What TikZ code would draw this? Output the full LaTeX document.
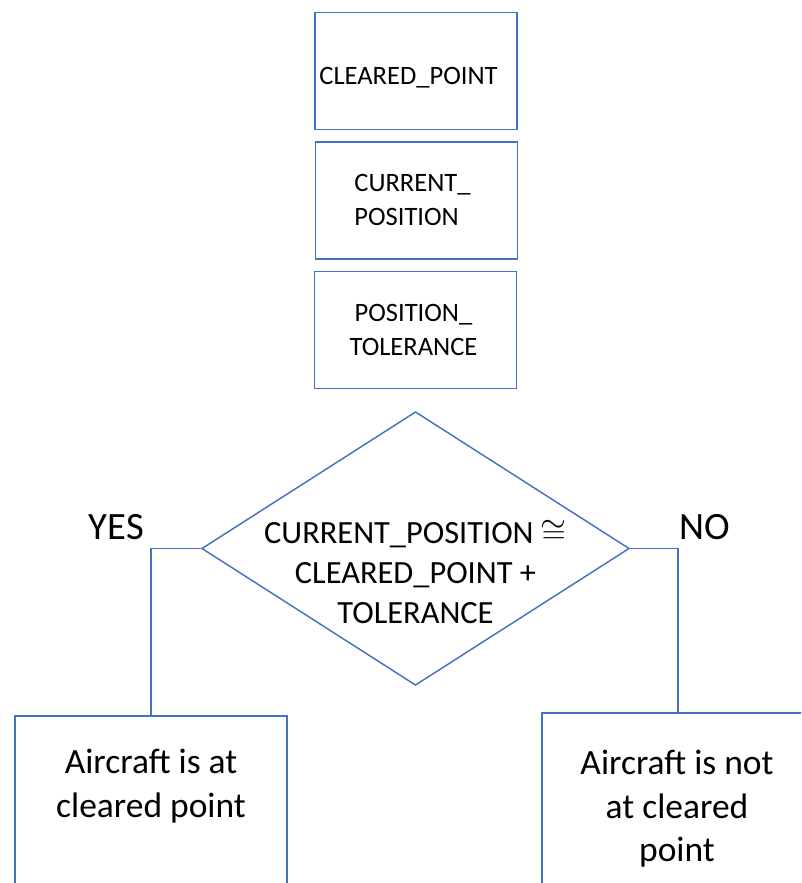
\documentclass[tikz,border=0pt]{standalone}
\usepackage{fontspec}
\setmainfont{Carlito}
\usepackage{tikz}
\usetikzlibrary{shapes.geometric}
\definecolor{boxblue}{RGB}{68,114,196}
\newcommand{\smalltxt}{\fontsize{19.9}{25}\selectfont}
\newcommand{\dectxt}{\fontsize{24.3}{30}\selectfont}
\newcommand{\outtxt}{\fontsize{26.6}{32.6}\selectfont}
\newcommand{\yntxt}{\fontsize{29}{35}\selectfont}
\tikzset{
  flowline/.style={draw=boxblue, line width=1.1pt},
  databox/.style={flowline, rectangle, inner sep=0pt, outer sep=0pt,
    minimum width=151.5pt, minimum height=88pt},
  decision/.style={flowline, diamond, inner sep=0pt, outer sep=0pt,
    minimum width=320.25pt, minimum height=204.75pt},
  outbox/.style={flowline, rectangle, inner sep=0pt, outer sep=0pt,
    minimum width=204pt, minimum height=183pt},
  txt/.style={inner sep=0pt, align=center, text=black}
}

\begin{document}
\begin{tikzpicture}[x=0.75pt, y=-0.75pt]
    \useasboundingbox (0,0) rectangle (801,883);
    \clip (0,0) rectangle (801,883);
    %input fields
    \node[databox] (cleared) at (416,71) {};
    \node[databox] (current) at (416.5,200.5) {};
    \node[databox] (toler) at (415.5,330) {};
    \node[txt, font=\smalltxt] (clearedtxt) at (408.5,77.5) {CLEARED\_POINT};
    \node[txt, font=\smalltxt, align=left] (currenttxt) at (412.5,200) {CURRENT\_\\POSITION};
    \node[txt, font=\smalltxt] (tolertxt) at (413.5,330) {POSITION\_\\TOLERANCE};
    %check
    \node[decision] (dec) at (415.5,548.5) {};
    \node[txt, font=\dectxt] (dectext) at (415.5,572) {CURRENT\_POSITION $\cong$\\CLEARED\_POINT +\\TOLERANCE};
    %outcomes
    \node[outbox] (yesbox) at (151,838) {};
    \node[outbox] (nobox) at (678,835) {};
    \node[txt, font=\outtxt] (yestxt) at (151,786) {Aircraft is at\\cleared point};
    \node[txt, font=\outtxt] (notxt) at (677,809) {Aircraft is not\\at cleared\\point};
    \draw[flowline] (dec.west) -- (yesbox.north |- dec.west) -- (yesbox.north);
    \draw[flowline] (dec.east) -- (nobox.north |- dec.east) -- (nobox.north);
    \node[txt, font=\yntxt] (yes) at (116.5,527.5) {YES};
    \node[txt, font=\yntxt] (no) at (704.5,527.5) {NO};
\end{tikzpicture}
\end{document}
